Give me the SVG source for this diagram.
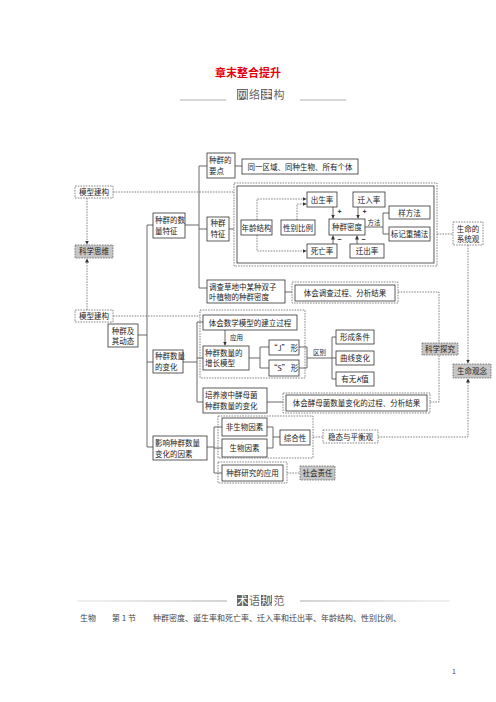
<svg xmlns="http://www.w3.org/2000/svg" width="496" height="702" viewBox="0 0 496 702">
<style>
text{font-family:"Noto Sans CJK SC","Noto Sans",sans-serif;fill:#222;font-size:7.5px}
.c{text-anchor:middle}
.b{fill:#fff;stroke:#333;stroke-width:0.8}
.d{fill:none;stroke:#555;stroke-width:0.7;stroke-dasharray:1.6 1.1}
.g{fill:#c6c6c6;stroke:#555;stroke-width:0.7;stroke-dasharray:1.6 1.1}
.l{fill:none;stroke:#444;stroke-width:0.8}
.dl{fill:none;stroke:#555;stroke-width:0.7;stroke-dasharray:1.6 1.1}
.sm{font-size:6.5px}
.hd{font-size:11px;fill:#666}
.hw{font-size:11px;fill:#fff}
</style>
<defs>
<marker id="a" viewBox="0 0 6 6" refX="6" refY="3" markerWidth="4" markerHeight="4" markerUnits="userSpaceOnUse" orient="auto"><path d="M0,0L6,3L0,6z" fill="#333"/></marker>
<linearGradient id="fl" gradientUnits="userSpaceOnUse" x1="77" x2="227" y1="0" y2="0"><stop offset="0" stop-color="#e4e4e4"/><stop offset="1" stop-color="#a8a8a8"/></linearGradient>
<linearGradient id="fr" gradientUnits="userSpaceOnUse" x1="300" x2="450" y1="0" y2="0"><stop offset="0" stop-color="#a8a8a8"/><stop offset="1" stop-color="#e4e4e4"/></linearGradient>
</defs>
<rect width="496" height="702" fill="#fff"/>
<g id="title"><text x="248" y="77" class="c" style="font-size:11px;font-weight:bold;fill:#e8000b">章末整合提升</text></g>
<g id="header1">
<line x1="180" y1="100" x2="226" y2="100" stroke="#999" stroke-width="0.8"/>
<line x1="300" y1="100" x2="346" y2="100" stroke="#999" stroke-width="0.8"/>
<rect x="237" y="89" width="11" height="11" fill="#666"/>
<rect x="261" y="89" width="11" height="11" fill="#666"/>
<text x="242.5" y="98.5" class="c hw">网</text>
<text x="254.5" y="98.5" class="c hd">络</text>
<text x="266.5" y="98.5" class="c hw">建</text>
<text x="279" y="98.5" class="c hd">构</text>
</g>
<g id="connectors">
<path class="dl" d="M113,192H234"/>
<path class="dl" d="M87,198V244.5" marker-end="url(#a)"/>
<path class="dl" d="M87,310V258.5" marker-end="url(#a)"/>
<path class="dl" d="M113,316H200"/>
<path class="l" d="M138,335H147M147,225V447M147,225H153M185,225H199M199,166V288M199,166H207M235,166H242M199,229H207M229,229H234M199,288H207M285,292H292"/>
<path class="dl" d="M257,220V199H306.5" marker-end="url(#a)"/>
<path class="dl" d="M297,220V204H306.5" marker-end="url(#a)"/>
<path class="dl" d="M257,235V251H306.5" marker-end="url(#a)"/>
<path class="l" d="M333,207V218.5" marker-end="url(#a)"/>
<path class="l" d="M358,207V218.5" marker-end="url(#a)"/>
<path class="l" d="M333,244V235.5" marker-end="url(#a)"/>
<path class="l" d="M357,244V235.5" marker-end="url(#a)"/>
<path class="l" d="M365,227H383M383,213V234M383,213H389M383,234H389"/>
<path class="dl" d="M437,234H453"/>
<path class="dl" d="M468,245V363.5" marker-end="url(#a)"/>
<path class="dl" d="M378,437H468V378.5" marker-end="url(#a)"/>
<path class="dl" d="M398,292H439V343"/>
<path class="dl" d="M430,402H439V355"/>
<path class="l" d="M147,362H153M183,362H197M197,322V402M197,322H203M197,358H203M249,358H260M260,347V368M260,347H269M260,368H269M299,347H307M299,368H307M307,347V368M307,358H332M332,337V379M332,337H336M332,358H336M332,379H336M197,402H203M267,402H283"/>
<path class="l" d="M225,330V345.5" marker-end="url(#a)"/>
<path class="l" d="M147,447H153M207,447H214M214,427V473M214,427H222M214,448H222M267,427H273M267,448H273M273,427V448M273,437H280M214,473H222"/>
<path class="dl" d="M313,437H323"/>
<path class="dl" d="M287,473H300"/>
<text x="374" y="224.5" class="c sm">方法</text>
<text x="230" y="340" class="sm">应用</text>
<text x="319.5" y="354.5" class="c sm">区别</text>
<text x="337.5" y="214" style="font-size:7px;font-weight:bold">+</text>
<text x="362.5" y="214" style="font-size:7px;font-weight:bold">+</text>
<text x="337.5" y="242" style="font-size:7px;font-weight:bold">−</text>
<text x="361.5" y="242" style="font-size:7px;font-weight:bold">−</text>
</g>
<g id="n-mx1"><rect class="d" x="75" y="186" width="38" height="12"/><text x="94" y="194.8" class="c">模型建构</text></g>
<g id="n-kxsw"><rect class="g" x="75" y="245" width="38" height="13"/><text x="94" y="254.3" class="c">科学思维</text></g>
<g id="n-mx2"><rect class="d" x="75" y="310" width="38" height="12"/><text x="94" y="318.8" class="c">模型建构</text></g>
<g id="n-root"><rect class="b" x="108" y="324" width="30" height="23"/><text x="123" y="333.5" class="c">种群及</text><text x="123" y="343.5" class="c">其动态</text></g>
<g id="n-slfz"><rect class="b" x="153" y="213" width="32" height="25"/><text x="155" y="223" >种群的数</text><text x="155" y="234">量特征</text></g>
<g id="n-yd"><rect class="b" x="207" y="153" width="28" height="25"/><text x="209" y="163">种群的</text><text x="209" y="174">要点</text></g>
<g id="n-tyqy"><rect class="b" x="242" y="159" width="116" height="15"/><text x="300" y="169.5" class="c">同一区域、同种生物、所有个体</text></g>
<g id="n-zqtz"><rect class="b" x="207" y="217" width="22" height="24"/><text x="218" y="226.3" class="c">种群</text><text x="218" y="237" class="c">特征</text></g>
<g id="n-tzbox"><rect class="d" x="234" y="183" width="203" height="83"/><rect x="237" y="186" width="197" height="77" fill="none" stroke="#333" stroke-width="0.8"/></g>
<g id="n-nljg"><rect class="b" x="241" y="220" width="31" height="15"/><text x="256.5" y="230.5" class="c">年龄结构</text></g>
<g id="n-xbbl"><rect class="b" x="281" y="220" width="34" height="15"/><text x="298" y="230.5" class="c">性别比例</text></g>
<g id="n-csl"><rect class="b" x="307" y="192" width="30" height="15"/><text x="322" y="202.5" class="c">出生率</text></g>
<g id="n-qrl"><rect class="b" x="353" y="192" width="32" height="15"/><text x="369" y="202.5" class="c">迁入率</text></g>
<g id="n-zqmd"><rect class="b" x="329" y="219" width="36" height="16"/><text x="347" y="230" class="c">种群密度</text></g>
<g id="n-swl"><rect class="b" x="307" y="244" width="30" height="14"/><text x="322" y="254" class="c">死亡率</text></g>
<g id="n-qcl"><rect class="b" x="350" y="244" width="34" height="14"/><text x="367" y="254" class="c">迁出率</text></g>
<g id="n-yff"><rect class="b" x="389" y="206" width="41" height="13"/><text x="409.5" y="215.5" class="c">样方法</text></g>
<g id="n-bjcbf"><rect class="b" x="389" y="227" width="41" height="14"/><text x="409.5" y="237" class="c">标记重捕法</text></g>
<g id="n-xtg"><rect class="d" x="453" y="222" width="30" height="23"/><text x="468" y="231.5" class="c">生命的</text><text x="468" y="241.5" class="c">系统观</text></g>
<g id="n-dc"><rect class="b" x="207" y="280" width="78" height="23"/><text x="209" y="289.5">调查草地中某种双子</text><text x="209" y="300">叶植物的种群密度</text></g>
<g id="n-thdc"><rect class="d" x="292" y="282" width="106" height="21"/><rect class="b" x="295" y="285" width="100" height="16"/><text x="345" y="296" class="c">体会调查过程、分析结果</text></g>
<g id="n-kxtj"><rect class="g" x="422" y="343" width="36" height="12"/><text x="440" y="352" class="c">科学探究</text></g>
<g id="n-smgn"><rect class="g" x="453" y="364" width="38" height="14"/><text x="472" y="374" class="c">生命观念</text></g>
<g id="n-slbh"><rect class="b" x="153" y="350" width="30" height="23"/><text x="155" y="359">种群数量</text><text x="155" y="369.5">的变化</text></g>
<g id="n-mxbox"><rect class="d" x="200" y="310" width="105" height="68"/></g>
<g id="n-thsx"><rect class="b" x="203" y="315" width="94" height="15"/><text x="250" y="325.5" class="c">体会数学模型的建立过程</text></g>
<g id="n-zzmx"><rect class="b" x="203" y="346" width="46" height="24"/><text x="205" y="355.5">种群数量的</text><text x="205" y="366">增长模型</text></g>
<g id="n-j"><rect class="b" x="269" y="340" width="30" height="15"/><text x="284" y="350.5" class="c">“J” 形</text></g>
<g id="n-s"><rect class="b" x="269" y="360" width="30" height="16"/><text x="284" y="371" class="c">“S” 形</text></g>
<g id="n-xctj"><rect class="b" x="336" y="330" width="38" height="14"/><text x="355" y="340" class="c">形成条件</text></g>
<g id="n-qxbh"><rect class="b" x="336" y="351" width="38" height="14"/><text x="355" y="361" class="c">曲线变化</text></g>
<g id="n-ywk"><rect class="b" x="336" y="372" width="38" height="14"/><text x="355" y="382" class="c">有无<tspan font-style="italic">K</tspan>值</text></g>
<g id="n-pyy"><rect class="b" x="203" y="388" width="64" height="25"/><text x="205" y="398">培养液中酵母菌</text><text x="205" y="409">种群数量的变化</text></g>
<g id="n-thjm"><rect class="d" x="283" y="393" width="147" height="20"/><rect class="b" x="286" y="395" width="141" height="16"/><text x="356.5" y="406" class="c">体会酵母菌数量变化的过程、分析结果</text></g>
<g id="n-yx"><rect class="b" x="153" y="436" width="54" height="24"/><text x="155" y="445.5">影响种群数量</text><text x="155" y="456.5">变化的因素</text></g>
<g id="n-ysbox"><rect class="d" x="218" y="416" width="95" height="42"/></g>
<g id="n-fsw"><rect class="b" x="222" y="418" width="45" height="18"/><text x="244.5" y="430" class="c">非生物因素</text></g>
<g id="n-sw"><rect class="b" x="222" y="439" width="45" height="18"/><text x="244.5" y="451" class="c">生物因素</text></g>
<g id="n-zhx"><rect class="b" x="280" y="430" width="30" height="15"/><text x="295" y="440.5" class="c">综合性</text></g>
<g id="n-wt"><rect class="d" x="323" y="430" width="55" height="13"/><text x="350.5" y="439.5" class="c">稳态与平衡观</text></g>
<g id="n-yy"><rect class="d" x="218" y="462" width="69" height="21"/><rect class="b" x="222" y="465" width="61" height="16"/><text x="252.5" y="476" class="c">种群研究的应用</text></g>
<g id="n-shzr"><rect class="g" x="300" y="466" width="35" height="14"/><text x="317.5" y="476" class="c">社会责任</text></g>
<g id="header2">
<rect x="77" y="600.5" width="150" height="1" fill="url(#fl)"/>
<rect x="300" y="600.5" width="150" height="1" fill="url(#fr)"/>
<rect x="237" y="595" width="11" height="11" fill="#666"/>
<rect x="261" y="595" width="11" height="11" fill="#666"/>
<text x="242.5" y="604.5" class="c hw">术</text>
<text x="254.5" y="604.5" class="c hd">语</text>
<text x="266.5" y="604.5" class="c hw">规</text>
<text x="279" y="604.5" class="c hd">范</text>
</g>
<g id="terms">
<text x="80" y="621" style="font-size:8px;fill:#444">生物</text>
<text x="112" y="621" style="font-size:8px;fill:#444">第 1 节</text>
<text x="153" y="621" style="font-size:8px;fill:#444">种群密度、诞生率和死亡率、迁入率和迁出率、年龄结构、性别比例、</text>
<text x="452" y="674" style="font-size:7px;fill:#444">1</text>
</g>
</svg>
